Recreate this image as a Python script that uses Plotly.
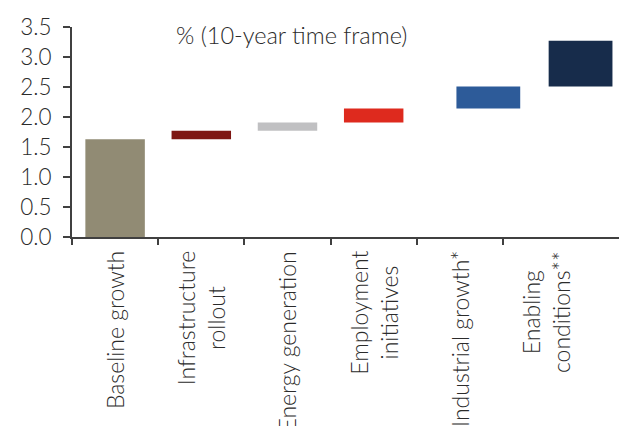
import numpy as np
import plotly.graph_objects as go

# Contributions to growth, % over a 10-year time frame
categories = [
    "Baseline growth",
    "Infrastructure<br>rollout",
    "Energy generation",
    "Employment<br>initiatives",
    "Industrial growth*",
    "Enabling<br>conditions**",
]
contributions = [1.63, 0.14, 0.14, 0.23, 0.37, 0.76]
y_ticks = [0.0, 0.5, 1.0, 1.5, 2.0, 2.5, 3.0, 3.5]

# Styling for each bar
bar_colors = ["#918B74", "#7E1612", "#C0C0C2", "#DE2A1E", "#2D5B99", "#172C4B"]
bar_widths = [0.69, 0.69, 0.69, 0.69, 0.74, 0.74]
bar_shift = [0.0, 0.0, 0.0, 0.0, 0.33, 0.40]

FONT = "Lato"
TEXT_COLOR = "#2b2b2b"
AXIS_COLOR = "#404040"

# Floating bars: each step starts where the previous one ended
bases = np.concatenate([[0.0], np.cumsum(contributions)[:-1]])
positions = list(range(len(categories)))
offsets = [s - w / 2 for s, w in zip(bar_shift, bar_widths)]

fig = go.Figure(
    go.Bar(
        x=positions,
        y=contributions,
        base=bases,
        width=bar_widths,
        offset=offsets,
        marker=dict(color=bar_colors, line=dict(width=0)),
        hoverinfo="skip",
    )
)

# Category labels, rotated and centred under each slot
for pos, label in zip(positions, categories):
    fig.add_annotation(
        x=pos, xref="x", y=0, yref="paper",
        text=label, textangle=-90, showarrow=False,
        xanchor="center", yanchor="top", yshift=-12, align="center",
        font=dict(family=FONT, size=23, color=TEXT_COLOR, weight=300),
    )

fig.add_annotation(
    x=0.402, xref="paper", y=0.962, yref="paper",
    text="% (10-year time frame)", showarrow=False,
    xanchor="center", yanchor="middle",
    font=dict(family=FONT, size=23.5, color=TEXT_COLOR, weight=300),
)

fig.update_layout(
    width=619, height=426,
    margin=dict(l=72, r=0, t=27, b=189),
    paper_bgcolor="white", plot_bgcolor="white",
    showlegend=False,
    font=dict(family=FONT, color=TEXT_COLOR),
    xaxis=dict(
        range=[-0.5, 5.846],
        tickmode="array",
        tickvals=[p - 0.5 for p in positions],
        showticklabels=False,
        ticks="outside", ticklen=6, tickwidth=2, tickcolor=AXIS_COLOR,
        showline=True, linecolor=AXIS_COLOR, linewidth=2,
        showgrid=False, zeroline=False, fixedrange=True,
    ),
    yaxis=dict(
        range=[0, 3.5],
        tickmode="array",
        tickvals=y_ticks,
        tickformat=".1f",
        ticks="outside", ticklen=7, tickwidth=2, tickcolor=AXIS_COLOR,
        ticklabelstandoff=7,
        tickfont=dict(family=FONT, size=22.5, color=TEXT_COLOR, weight=300),
        showline=True, linecolor=AXIS_COLOR, linewidth=2,
        showgrid=False, zeroline=False, fixedrange=True,
    ),
)

fig.write_html("out.html")
